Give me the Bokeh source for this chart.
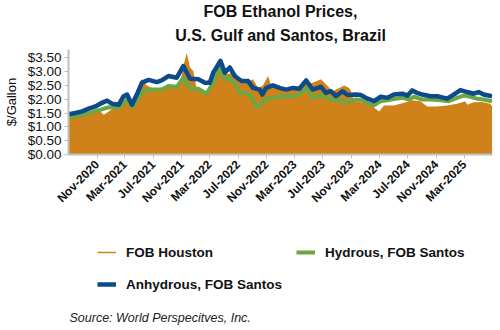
import math
import pandas as pd
from bokeh.plotting import figure
from bokeh.layouts import column
from bokeh.models import (Range1d, FixedTicker, NumeralTickFormatter, DatetimeTickFormatter,
                          Legend, LegendItem, Label, Title)
from bokeh.embed import file_html
from bokeh.resources import INLINE

# ---------------- data ----------------
houston_dates = [
    "2020-07-03", "2020-07-17", "2020-08-29", "2020-10-11", "2020-11-15", "2020-11-30",
    "2020-12-21", "2021-01-18", "2021-02-16", "2021-03-10", "2021-03-31", "2021-04-29",
    "2021-05-10", "2021-06-03", "2021-07-02", "2021-08-06", "2021-09-18", "2021-10-24",
    "2021-11-07", "2021-11-22", "2021-12-06", "2021-12-20", "2022-01-03", "2022-02-01",
    "2022-02-23", "2022-03-09", "2022-04-06", "2022-04-21", "2022-05-12", "2022-06-10",
    "2022-07-08", "2022-08-06", "2022-09-03", "2022-09-25", "2022-10-16", "2022-11-07",
    "2022-11-21", "2022-12-20", "2023-01-24", "2023-03-08", "2023-04-06", "2023-05-18",
    "2023-06-23", "2023-07-14", "2023-08-12", "2023-09-10", "2023-10-01", "2023-10-22",
    "2023-10-29", "2023-11-13", "2023-12-26", "2024-01-31", "2024-02-28", "2024-03-20",
    "2024-05-02", "2024-06-14", "2024-07-20", "2024-08-24", "2024-09-22", "2024-11-04",
    "2024-12-17", "2025-01-29", "2025-03-05", "2025-03-13", "2025-04-10", "2025-05-16",
    "2025-06-20", "2025-06-28",
]
houston_values = [
    1.58, 1.38, 1.44, 1.50, 1.56, 1.44,
    1.56, 1.72, 1.74, 2.11, 1.74, 2.23,
    2.72, 2.50, 2.38, 2.38, 2.50, 2.54,
    3.20, 3.67, 3.15, 3.02, 2.41, 2.35,
    2.23, 2.54, 3.02, 3.20, 2.90, 2.96,
    2.60, 2.60, 2.72, 2.41, 2.50, 2.84,
    2.48, 2.35, 2.35, 2.35, 2.54, 2.60,
    2.72, 2.54, 2.29, 2.41, 2.50, 2.41,
    2.30, 1.93, 1.87, 1.74, 1.56, 1.77,
    1.77, 1.87, 1.96, 1.93, 1.74, 1.74,
    1.77, 1.84, 1.93, 1.80, 1.89, 1.90,
    1.84, 1.75,
]

hydrous_dates = [
    "2020-07-03", "2020-08-14", "2020-09-26", "2020-11-08", "2020-12-21", "2021-02-02",
    "2021-03-10", "2021-04-03", "2021-04-29", "2021-05-20", "2021-06-25", "2021-08-06",
    "2021-09-04", "2021-10-10", "2021-11-07", "2021-12-06", "2022-01-11", "2022-02-15",
    "2022-03-16", "2022-04-16", "2022-05-05", "2022-05-26", "2022-06-17", "2022-07-08",
    "2022-08-06", "2022-08-27", "2022-09-18", "2022-10-09", "2022-10-23", "2022-11-28",
    "2023-01-03", "2023-02-07", "2023-03-15", "2023-04-20", "2023-05-18", "2023-06-23",
    "2023-07-29", "2023-09-03", "2023-10-08", "2023-11-20", "2023-12-11", "2024-01-09",
    "2024-02-06", "2024-03-06", "2024-04-04", "2024-05-02", "2024-06-07", "2024-07-06",
    "2024-07-27", "2024-09-01", "2024-10-06", "2024-11-18", "2024-12-24", "2025-01-29",
    "2025-02-26", "2025-03-27", "2025-04-24", "2025-05-23", "2025-06-28",
]
hydrous_values = [
    1.34, 1.40, 1.50, 1.60, 1.71, 1.68,
    1.99, 1.72, 2.05, 2.29, 2.35, 2.35,
    2.48, 2.45, 2.78, 2.38, 2.38, 2.20,
    2.60, 3.15, 2.72, 2.78, 2.54, 2.23,
    2.23, 2.11, 1.74, 1.80, 1.99, 2.05,
    2.11, 2.11, 2.13, 2.41, 2.05, 2.15,
    1.99, 1.99, 1.89, 1.99, 1.97, 1.85,
    1.78, 1.93, 1.96, 2.01, 2.05, 1.99,
    2.09, 1.99, 1.99, 1.96, 1.93, 2.05,
    2.13, 2.09, 2.02, 1.99, 1.93,
]

anhydrous_dates = [
    "2020-07-03", "2020-07-31", "2020-08-29", "2020-09-26", "2020-10-25", "2020-11-22",
    "2020-12-14", "2021-01-04", "2021-02-02", "2021-02-23", "2021-03-10", "2021-03-31",
    "2021-04-21", "2021-05-13", "2021-06-11", "2021-07-16", "2021-08-06", "2021-09-04",
    "2021-10-10", "2021-11-07", "2021-12-06", "2022-01-11", "2022-02-08", "2022-03-01",
    "2022-03-16", "2022-04-16", "2022-05-05", "2022-05-26", "2022-06-17", "2022-07-15",
    "2022-08-13", "2022-09-03", "2022-10-02", "2022-10-13", "2022-10-30", "2022-11-28",
    "2022-12-26", "2023-01-24", "2023-02-22", "2023-03-22", "2023-04-20", "2023-05-18",
    "2023-06-23", "2023-07-14", "2023-08-05", "2023-08-26", "2023-09-24", "2023-10-15",
    "2023-11-20", "2023-12-11", "2024-01-09", "2024-02-06", "2024-03-06", "2024-04-04",
    "2024-05-02", "2024-06-07", "2024-06-29", "2024-07-20", "2024-08-10", "2024-09-01",
    "2024-10-06", "2024-11-04", "2024-12-17", "2025-01-14", "2025-02-12", "2025-03-13",
    "2025-04-10", "2025-05-01", "2025-05-23", "2025-06-28",
]
anhydrous_values = [
    1.46, 1.50, 1.56, 1.66, 1.74, 1.87,
    1.95, 1.84, 1.80, 2.11, 2.17, 1.80,
    2.17, 2.60, 2.70, 2.62, 2.68, 2.84,
    2.78, 3.20, 2.74, 2.72, 2.60, 2.60,
    2.96, 3.39, 2.96, 3.15, 2.84, 2.66,
    2.66, 2.41, 2.35, 2.17, 2.41, 2.50,
    2.41, 2.35, 2.41, 2.38, 2.68, 2.35,
    2.45, 2.23, 2.29, 2.11, 2.29, 2.15,
    2.17, 2.15, 2.02, 1.93, 2.09, 2.05,
    2.17, 2.20, 2.13, 2.32, 2.23, 2.17,
    2.11, 2.11, 2.02, 2.17, 2.33, 2.26,
    2.20, 2.26, 2.17, 2.11,
]

x_tick_dates = [
    "2020-11-01", "2021-03-01", "2021-07-01", "2021-11-01", "2022-03-01", "2022-07-01",
    "2022-11-01", "2023-03-01", "2023-07-01", "2023-11-01", "2024-03-01", "2024-07-01",
    "2024-11-01", "2025-03-01",
]
y_ticks = [0.0, 0.5, 1.0, 1.5, 2.0, 2.5, 3.0, 3.5]

title_line1 = "FOB Ethanol Prices,"
title_line2 = "U.S. Gulf and Santos, Brazil"
y_label = "$/Gallon"
source_text = "Source: World Perspecitves, Inc."
series_names = ["FOB Houston", "Hydrous, FOB Santos", "Anhydrous, FOB Santos"]

# ---------------- styling ----------------
FONT = "Liberation Sans"
ORANGE = "#D0821A"
GREEN = "#6BA743"
BLUE = "#0D4A8A"
AXIS_GRAY = "#BFBFBF"
TEXT = "#111111"

hx = pd.to_datetime(houston_dates)
gx = pd.to_datetime(hydrous_dates)
bx = pd.to_datetime(anhydrous_dates)

p = figure(width=500, height=228, x_axis_type="datetime",
           x_range=Range1d(pd.Timestamp("2020-07-01"), pd.Timestamp("2025-06-30")),
           y_range=Range1d(0, 3.8),
           output_backend="svg", toolbar_location=None,
           min_border_left=66, min_border_right=8, min_border_top=49, min_border_bottom=74,
           background_fill_color="white", border_fill_color="white")
p.title = None
p.outline_line_color = None
p.xgrid.grid_line_color = None
p.ygrid.grid_line_color = None

t2 = Title(text=title_line2, align="center", text_font=FONT, text_font_size="16px",
           text_font_style="bold", text_color=TEXT, standoff=11)
t1 = Title(text=title_line1, align="center", text_font=FONT, text_font_size="16px",
           text_font_style="bold", text_color=TEXT, standoff=0)
p.add_layout(t2, "above")
p.add_layout(t1, "above")

p.varea(x=hx, y1=0, y2=houston_values, fill_color=ORANGE, fill_alpha=1.0)
p.line(gx, hydrous_values, line_color=GREEN, line_width=4, line_join="round")
p.line(bx, anhydrous_values, line_color=BLUE, line_width=4.5, line_join="round")

# axes
xa = p.xaxis[0]
xa.ticker = FixedTicker(ticks=[pd.Timestamp(d).value / 1e6 for d in x_tick_dates])
fmt = "%b-%Y"
xa.formatter = DatetimeTickFormatter(days=fmt, months=fmt, years=fmt, hours=fmt,
                                     minutes=fmt, seconds=fmt, milliseconds=fmt,
                                     microseconds=fmt, minsec=fmt, hourmin=fmt)
xa.major_label_orientation = math.pi / 4
xa.major_label_text_font = FONT
xa.major_label_text_font_size = "12px"
xa.major_label_text_font_style = "bold"
xa.major_label_text_color = TEXT
xa.major_label_standoff = 4
xa.axis_line_color = AXIS_GRAY
xa.axis_line_width = 2
xa.major_tick_line_color = AXIS_GRAY
xa.major_tick_out = 4
xa.major_tick_in = 0
xa.minor_tick_line_color = None

ya = p.yaxis[0]
ya.ticker = FixedTicker(ticks=y_ticks)
ya.formatter = NumeralTickFormatter(format="$0.00")
ya.major_label_text_font = FONT
ya.major_label_text_font_size = "13.5px"
ya.major_label_text_color = TEXT
ya.major_label_standoff = 3
ya.axis_line_color = AXIS_GRAY
ya.axis_line_width = 2
ya.major_tick_line_color = AXIS_GRAY
ya.major_tick_out = 4
ya.major_tick_in = 0
ya.minor_tick_line_color = None
ya.axis_label = y_label
ya.axis_label_text_font = FONT
ya.axis_label_text_font_size = "13px"
ya.axis_label_text_font_style = "normal"
ya.axis_label_text_color = TEXT
ya.axis_label_standoff = 6

# ---------------- legend + source strip ----------------
# (the column aligns this strip's frame with the chart's frame: x 66..492 on the canvas)
p2 = figure(width=500, height=102, x_range=Range1d(66, 492), y_range=Range1d(0, 102),
            output_backend="svg", toolbar_location=None, min_border=0,
            x_axis_location=None, y_axis_location=None,
            background_fill_color="white", border_fill_color="white")
p2.title = None
p2.outline_line_color = None
p2.xgrid.grid_line_color = None
p2.ygrid.grid_line_color = None

# hidden copies of the series, used only to draw the legend keys
r_h = p2.line(x=hx, y=houston_values, line_color=ORANGE, line_width=1.5, visible=False)
r_g = p2.line(x=gx, y=hydrous_values, line_color=GREEN, line_width=4, visible=False)
r_b = p2.line(x=bx, y=anhydrous_values, line_color=BLUE, line_width=4.5, visible=False)

legend = Legend(
    items=[LegendItem(label=series_names[0], renderers=[r_h]),
           LegendItem(label=series_names[1], renderers=[r_g]),
           LegendItem(label=series_names[2], renderers=[r_b])],
    location=(29, 36), orientation="horizontal", ncols=2,
    padding=0, spacing=12, margin=0, click_policy="none",
    glyph_width=19, glyph_height=20, label_height=20, label_width=158, label_standoff=10,
    border_line_color=None, background_fill_alpha=0,
    label_text_font=FONT, label_text_font_size="13.5px", label_text_font_style="bold",
    label_text_color=TEXT,
)
p2.add_layout(legend)

src = Label(x=67, y=13, text=source_text,
            text_font=FONT, text_font_size="12.5px", text_font_style="italic",
            text_color="#222222", text_baseline="alphabetic")
p2.add_layout(src)

layout = column(p, p2, spacing=0)
open("out.html", "w").write(file_html(layout, INLINE))
